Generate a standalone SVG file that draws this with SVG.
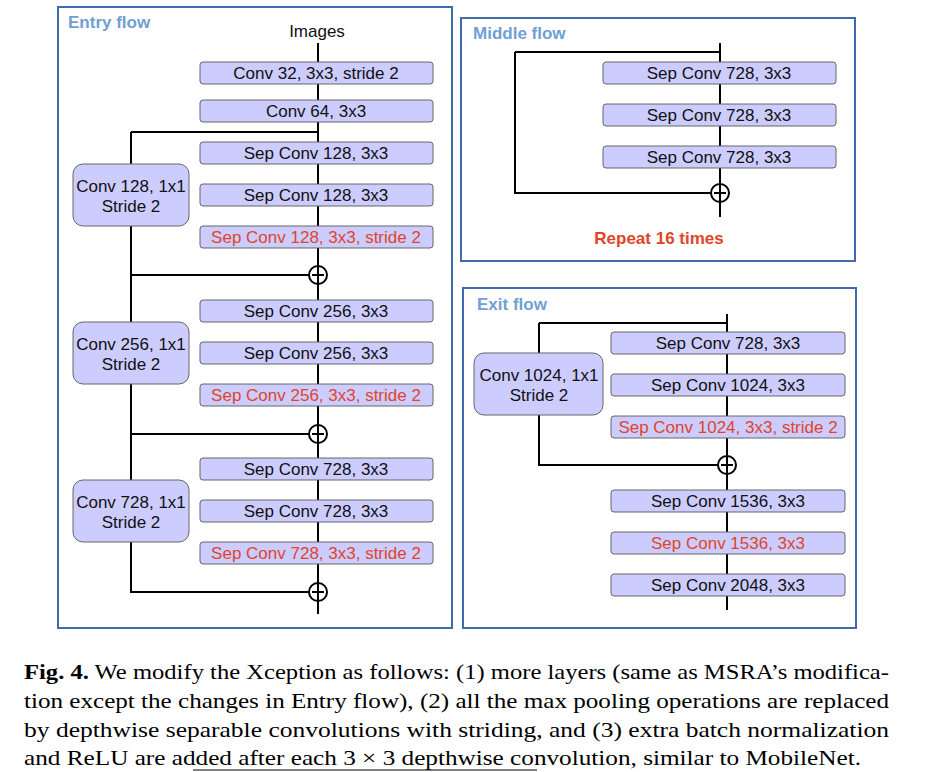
<svg xmlns="http://www.w3.org/2000/svg" width="939" height="772" viewBox="0 0 939 772">
<style>
.frame{fill:none;stroke:#3f6ba8;stroke-width:2}
.title{font:bold 17px "Liberation Sans",sans-serif;fill:#6f9fd3}
.b{fill:#ccccff;stroke:#666;stroke-width:1}
.t{font:17px "Liberation Sans",sans-serif;fill:#111;text-anchor:middle}
.r{fill:#e0452a}
.ln{fill:none;stroke:#000;stroke-width:2}
.cap{font:21px "Liberation Serif",serif;fill:#000}
</style>
<rect width="939" height="772" fill="#fff"/>
<rect class="frame" x="58" y="7" width="394" height="621"/>
<rect class="frame" x="461" y="18" width="394" height="243"/>
<rect class="frame" x="463" y="288" width="393" height="340"/>
<text class="title" x="68" y="28">Entry  flow</text>
<text class="title" x="473" y="39">Middle  flow</text>
<text class="title" x="477" y="310">Exit  flow</text>
<g id="connectors">
<path class="ln" d="M318 43V614 M131 132H318 M131 132V164 M131 226V592H309 M131 275H309 M131 434H309"/>
<circle class="ln" cx="318" cy="275" r="9" fill="#fff"/><path class="ln" d="M312 275h12M318 269v12"/>
<circle class="ln" cx="318" cy="434" r="9" fill="#fff"/><path class="ln" d="M312 434h12M318 428v12"/>
<circle class="ln" cx="318" cy="592" r="9" fill="#fff"/><path class="ln" d="M312 592h12M318 586v12"/>
<path class="ln" d="M720 43V217 M515 52H720 M515 52V193H711"/>
<circle class="ln" cx="720" cy="193" r="9" fill="#fff"/><path class="ln" d="M714 193h12M720 187v12"/>
<path class="ln" d="M727 314V610 M539 323H727 M539 323V353 M539 415V465H718"/>
<circle class="ln" cx="727" cy="465" r="9" fill="#fff"/><path class="ln" d="M721 465h12M727 459v12"/>
</g>
<g id="images"><text class="t" x="317" y="37">Images</text></g>
<g id="e1"><rect class="b" x="200" y="62" width="233" height="22" rx="3"/><text class="t" x="316" y="79">Conv 32, 3x3, stride 2</text></g>
<g id="e2"><rect class="b" x="200" y="100" width="233" height="22" rx="3"/><text class="t" x="316" y="117">Conv 64, 3x3</text></g>
<g id="e3"><rect class="b" x="200" y="142" width="233" height="22" rx="3"/><text class="t" x="316" y="159">Sep Conv 128, 3x3</text></g>
<g id="e4"><rect class="b" x="200" y="184" width="233" height="22" rx="3"/><text class="t" x="316" y="201">Sep Conv 128, 3x3</text></g>
<g id="e5"><rect class="b" x="200" y="226" width="233" height="22" rx="3"/><text class="t r" x="316" y="243">Sep Conv 128, 3x3, stride 2</text></g>
<g id="s1"><rect class="b" x="73" y="164" width="116" height="62" rx="10"/><text class="t" x="131" y="192">Conv 128, 1x1</text><text class="t" x="131" y="212">Stride 2</text></g>
<g id="e6"><rect class="b" x="200" y="300" width="233" height="22" rx="3"/><text class="t" x="316" y="317">Sep Conv 256, 3x3</text></g>
<g id="e7"><rect class="b" x="200" y="342" width="233" height="22" rx="3"/><text class="t" x="316" y="359">Sep Conv 256, 3x3</text></g>
<g id="e8"><rect class="b" x="200" y="384" width="233" height="22" rx="3"/><text class="t r" x="316" y="401">Sep Conv 256, 3x3, stride 2</text></g>
<g id="s2"><rect class="b" x="73" y="322" width="116" height="62" rx="10"/><text class="t" x="131" y="350">Conv 256, 1x1</text><text class="t" x="131" y="370">Stride 2</text></g>
<g id="e9"><rect class="b" x="200" y="458" width="233" height="22" rx="3"/><text class="t" x="316" y="475">Sep Conv 728, 3x3</text></g>
<g id="e10"><rect class="b" x="200" y="500" width="233" height="22" rx="3"/><text class="t" x="316" y="517">Sep Conv 728, 3x3</text></g>
<g id="e11"><rect class="b" x="200" y="542" width="233" height="22" rx="3"/><text class="t r" x="316" y="559">Sep Conv 728, 3x3, stride 2</text></g>
<g id="s3"><rect class="b" x="73" y="480" width="116" height="62" rx="10"/><text class="t" x="131" y="508">Conv 728, 1x1</text><text class="t" x="131" y="528">Stride 2</text></g>
<g id="m1"><rect class="b" x="603" y="62" width="233" height="22" rx="3"/><text class="t" x="719" y="79">Sep Conv 728, 3x3</text></g>
<g id="m2"><rect class="b" x="603" y="104" width="233" height="22" rx="3"/><text class="t" x="719" y="121">Sep Conv 728, 3x3</text></g>
<g id="m3"><rect class="b" x="603" y="146" width="233" height="22" rx="3"/><text class="t" x="719" y="163">Sep Conv 728, 3x3</text></g>
<g id="repeat"><text x="659" y="244" style="font:bold 17px 'Liberation Sans',sans-serif;fill:#e0452a;text-anchor:middle">Repeat 16 times</text></g>
<g id="x1"><rect class="b" x="611" y="332" width="234" height="22" rx="3"/><text class="t" x="728" y="349">Sep Conv 728, 3x3</text></g>
<g id="x2"><rect class="b" x="611" y="374" width="234" height="22" rx="3"/><text class="t" x="728" y="391">Sep Conv 1024, 3x3</text></g>
<g id="x3"><rect class="b" x="611" y="416" width="234" height="22" rx="3"/><text class="t r" x="728" y="433">Sep Conv 1024, 3x3, stride 2</text></g>
<g id="xs"><rect class="b" x="474" y="353" width="129" height="62" rx="10"/><text class="t" x="539" y="381">Conv 1024, 1x1</text><text class="t" x="539" y="401">Stride 2</text></g>
<g id="x4"><rect class="b" x="611" y="490" width="234" height="22" rx="3"/><text class="t" x="728" y="507">Sep Conv 1536, 3x3</text></g>
<g id="x5"><rect class="b" x="611" y="532" width="234" height="22" rx="3"/><text class="t r" x="728" y="549">Sep Conv 1536, 3x3</text></g>
<g id="x6"><rect class="b" x="611" y="574" width="234" height="22" rx="3"/><text class="t" x="728" y="591">Sep Conv 2048, 3x3</text></g>
<g id="caption">
<text class="cap" x="24" y="679" textLength="865" lengthAdjust="spacingAndGlyphs"><tspan font-weight="bold">Fig. 4.</tspan> We modify the Xception as follows: (1) more layers (same as MSRA’s modifica-</text>
<text class="cap" x="24" y="708" textLength="865" lengthAdjust="spacingAndGlyphs">tion except the changes in Entry flow), (2) all the max pooling operations are replaced</text>
<text class="cap" x="24" y="737" textLength="865" lengthAdjust="spacingAndGlyphs">by depthwise separable convolutions with striding, and (3) extra batch normalization</text>
<text class="cap" x="24" y="765" textLength="837" lengthAdjust="spacingAndGlyphs">and ReLU are added after each 3 × 3 depthwise convolution, similar to MobileNet.</text>
<line x1="193" y1="770" x2="537" y2="770" stroke="#000" stroke-width="1"/>
</g>
</svg>
